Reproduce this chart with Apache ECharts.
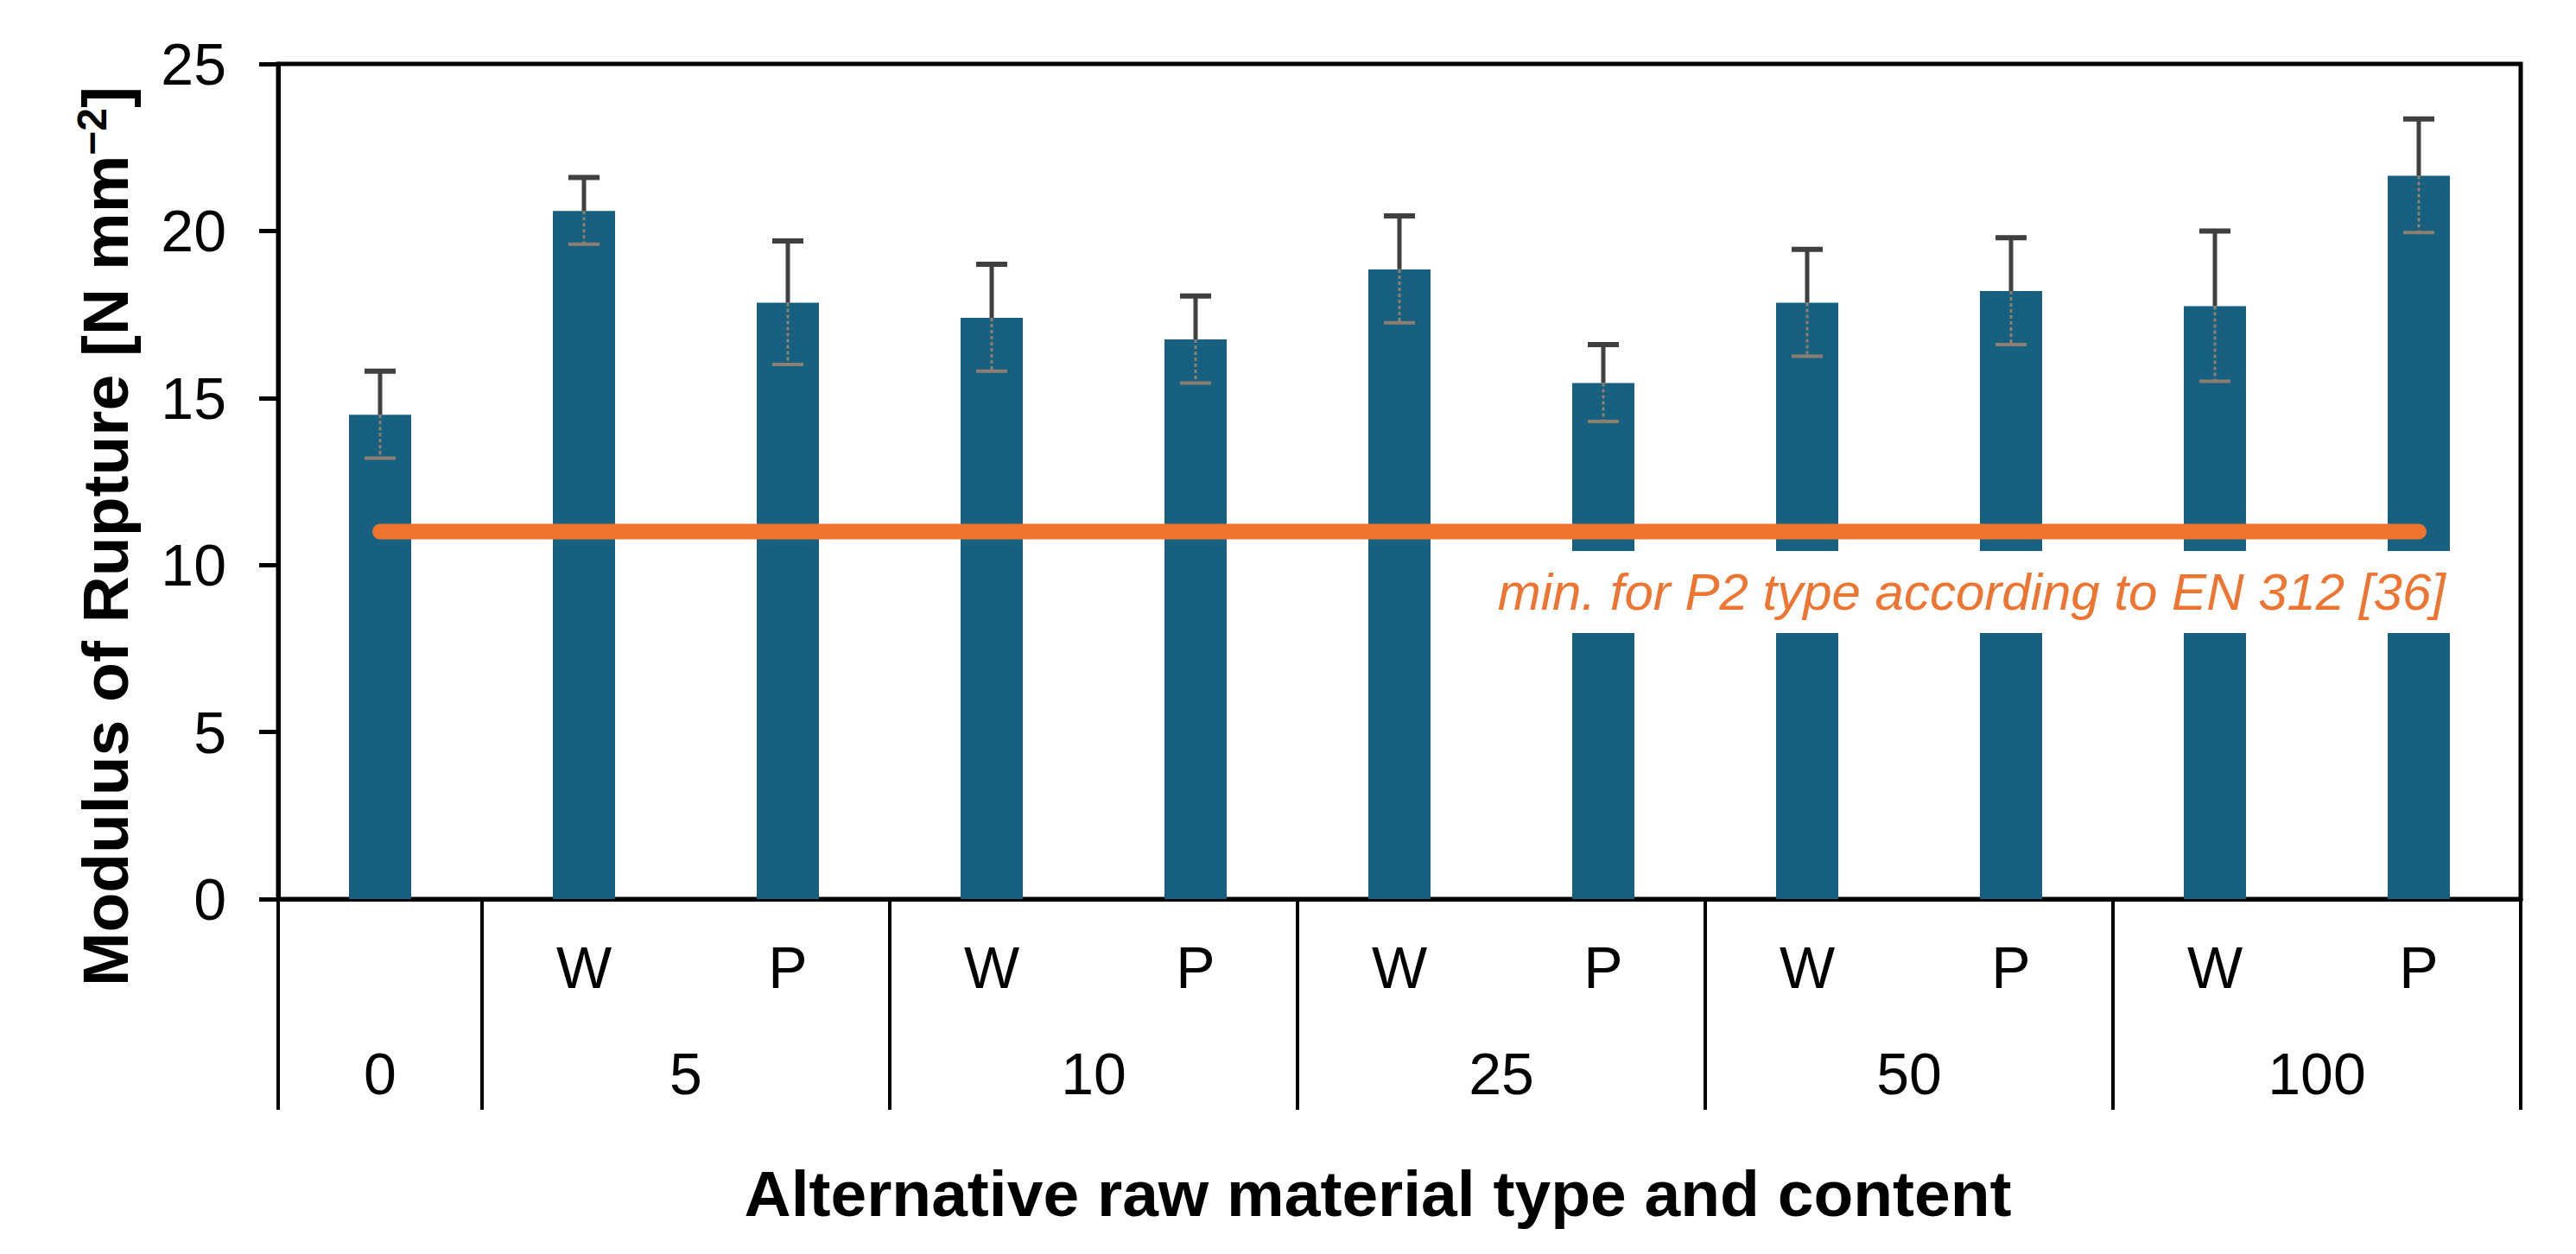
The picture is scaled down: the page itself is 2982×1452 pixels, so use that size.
<!DOCTYPE html>
<html><head><meta charset="utf-8">
<script src="https://cdn.jsdelivr.net/npm/echarts@6/dist/echarts.min.js"></script>
<style>html,body{margin:0;padding:0;background:#fff}#c{width:2982px;height:1452px}</style>
</head><body><div id="c"></div>
<script>
// ---- data ----
const categoryGroup = ['0','5','5','10','10','25','25','50','50','100','100'];
const categoryType  = ['','W','P','W','P','W','P','W','P','W','P'];
const modulusOfRupture = [14.5, 20.6, 17.85, 17.4, 16.75, 18.85, 15.45, 17.85, 18.2, 17.75, 21.65];
const stdDev           = [1.3, 1.0, 1.85, 1.6, 1.3, 1.6, 1.15, 1.6, 1.6, 2.25, 1.7];
const minP2 = 11;
const yMin = 0, yMax = 25, yStep = 5;
const minLabel = 'min. for P2 type according to EN 312 [36]';
const xTitle = 'Alternative raw material type and content';
const yTitleMain = 'Modulus of Rupture [N mm';
const yTitleSup = '\u22122';
const yTitleEnd = ']';

// ---- derived ----
const groups = [];
categoryGroup.forEach((g, i) => {
  const last = groups[groups.length - 1];
  if (last && last.name === g) last.end = i + 1; else groups.push({name: g, start: i, end: i + 1});
});
const groupCenters = groups.map(g => (g.start + g.end) / 2);
const groupBounds = [0].concat(groups.map(g => g.end));
const catKeys = categoryGroup.map((g, i) => g + ' ' + categoryType[i]);
const lineData = categoryGroup.map(() => minP2);
const errData = modulusOfRupture.map((v, i) => [i, v, stdDev[i]]);

const FONT = 'Liberation Sans, Arial, sans-serif';
const chart = echarts.init(document.getElementById('c'), null, {renderer: 'svg'});

const option = {
  backgroundColor: '#fff',
  animation: false,
  grid: {left: 322, right: 64, top: 74, bottom: 411, show: true, borderColor: '#000', borderWidth: 5, containLabel: false},
  xAxis: [
    {
      type: 'category', data: catKeys, position: 'bottom',
      axisLine: {show: true, lineStyle: {color: '#000', width: 5}},
      axisTick: {show: false},
      axisLabel: {interval: 0, margin: 45, color: '#000', fontSize: 68, fontFamily: FONT,
        formatter: (v, i) => categoryType[i]},
      splitLine: {show: false}
    },
    {
      type: 'value', min: 0, max: categoryGroup.length, position: 'bottom',
      axisLine: {show: false},
      axisTick: {show: true, inside: false, length: 244, customValues: groupBounds,
        lineStyle: {color: '#000', width: 4}},
      axisLabel: {show: true, margin: 168, color: '#000', fontSize: 68, fontFamily: FONT,
        customValues: groupCenters,
        formatter: (v) => { const k = groupCenters.indexOf(v); return k >= 0 ? groups[k].name : ''; }},
      splitLine: {show: false}
    }
  ],
  yAxis: {
    type: 'value', min: yMin, max: yMax, interval: yStep,
    axisLine: {show: true, lineStyle: {color: '#000', width: 5}},
    axisTick: {show: true, inside: false, length: 22, lineStyle: {color: '#000', width: 5}},
    axisLabel: {margin: 60, color: '#000', fontSize: 68, fontFamily: FONT},
    splitLine: {show: false}
  },
  series: [
    {
      type: 'bar', data: modulusOfRupture, xAxisIndex: 0, yAxisIndex: 0,
      barWidth: 72, itemStyle: {color: '#18607F'}, z: 2
    },
    {
      type: 'line', data: lineData, xAxisIndex: 0, yAxisIndex: 0,
      symbol: 'none', showSymbol: false,
      lineStyle: {color: '#EE7430', width: 18, cap: 'round'}, z: 3
    },
    {
      type: 'custom', data: errData, xAxisIndex: 0, yAxisIndex: 0, z: 4,
      encode: {x: 0, y: 1},
      renderItem: (params, api) => {
        const x = api.value(0), v = api.value(1), e = api.value(2);
        const top = api.coord([x, v + e]), mid = api.coord([x, v]), bot = api.coord([x, v - e]);
        const hw = 18;
        return {type: 'group', children: [
          {type: 'line', shape: {x1: top[0], y1: top[1], x2: mid[0], y2: mid[1]}, style: {stroke: '#404040', lineWidth: 5}},
          {type: 'line', shape: {x1: top[0] - hw, y1: top[1], x2: top[0] + hw, y2: top[1]}, style: {stroke: '#404040', lineWidth: 6}},
          {type: 'line', shape: {x1: mid[0], y1: mid[1], x2: bot[0], y2: bot[1]}, style: {stroke: '#8C7E70', lineWidth: 3, lineDash: [4, 3]}},
          {type: 'line', shape: {x1: bot[0] - hw, y1: bot[1], x2: bot[0] + hw, y2: bot[1]}, style: {stroke: '#8C7E70', lineWidth: 4}}
        ]};
      }
    }
  ]
};
chart.setOption(option);

const endPt = chart.convertToPixel({xAxisIndex: 0, yAxisIndex: 0}, [categoryGroup.length - 1, minP2]);
chart.setOption({
  graphic: [
    {
      type: 'text', z: 10, x: endPt[0] + 76, y: endPt[1] + 70,
      style: {text: minLabel, fontSize: 60, fontStyle: 'italic', fontFamily: FONT, fill: '#EE7430',
        align: 'right', verticalAlign: 'middle', backgroundColor: '#fff', padding: [20, 45, 15, 18]}
    },
    {
      type: 'text', z: 10, x: 1595, y: 1382,
      style: {text: xTitle, fontSize: 75, fontWeight: 'bold', fontFamily: FONT, fill: '#000',
        align: 'center', verticalAlign: 'middle'}
    },
    {
      type: 'text', z: 10, x: 122, y: 621, rotation: Math.PI / 2,
      style: {
        text: '{a|' + yTitleMain + '}{s|' + yTitleSup + '}{a|' + yTitleEnd + '}',
        align: 'center', verticalAlign: 'middle', fill: '#000',
        rich: {
          a: {fontSize: 75, fontWeight: 'bold', fontFamily: FONT, fill: '#000', lineHeight: 80},
          s: {fontSize: 48, fontWeight: 'bold', fontFamily: FONT, fill: '#000', lineHeight: 60, verticalAlign: 'top'}
        }
      }
    }
  ]
});
</script></body></html>
